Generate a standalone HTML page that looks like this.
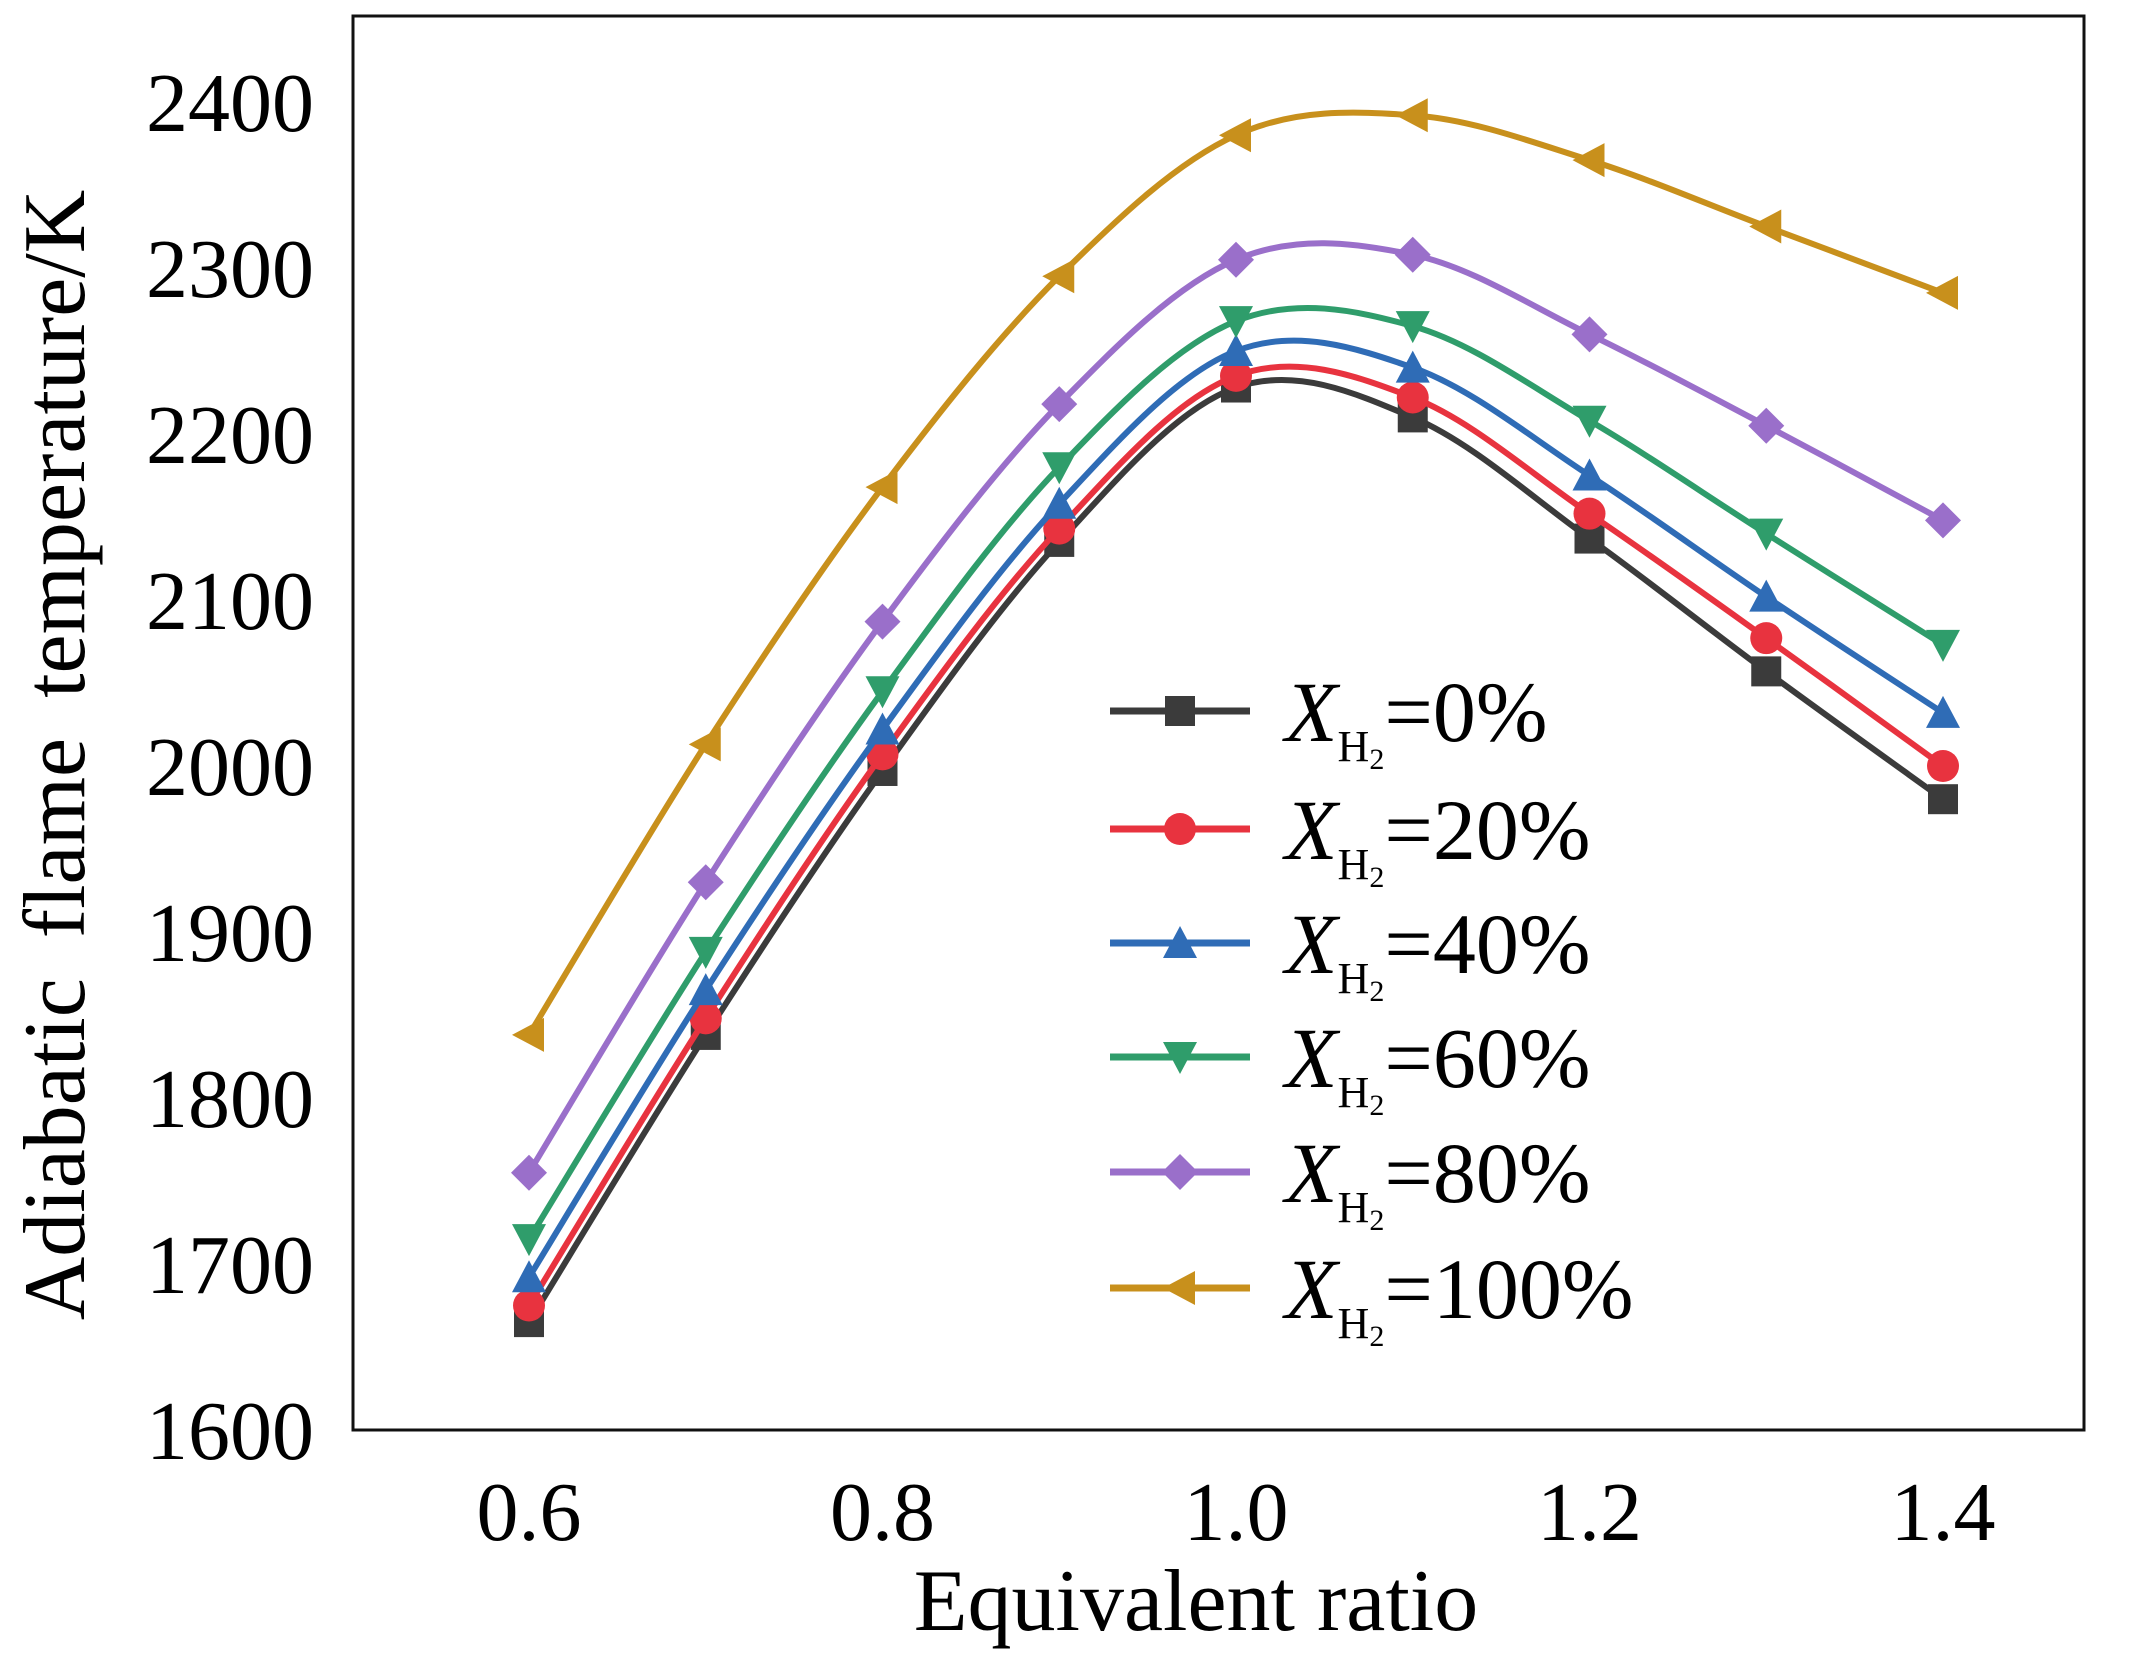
<!DOCTYPE html>
<html><head><meta charset="utf-8"><style>
html,body{margin:0;padding:0;background:#fff;}
svg{display:block;font-family:"Liberation Serif",serif;}
</style></head><body>
<svg id="chart" width="2144" height="1665" viewBox="0 0 2144 1665" xmlns="http://www.w3.org/2000/svg">
<rect x="353" y="16" width="1731" height="1414" fill="none" stroke="#111" stroke-width="3"/>
<g id="yticks"></g><g id="xticks"></g><g id="series"></g><g id="legend"></g>
<text x="1196" y="1630" font-size="88" text-anchor="middle">Equivalent ratio</text>
<text transform="translate(84,755) rotate(-90)" font-size="88" text-anchor="middle" word-spacing="18">Adiabatic  flame  temperature/K</text>
</svg>
<script>
const xValues=[0.6,0.7,0.8,0.9,1.0,1.1,1.2,1.3,1.4];
const yTickLabels=[1600,1700,1800,1900,2000,2100,2200,2300,2400];
const xTickLabels=["0.6","0.8","1.0","1.2","1.4"];
const seriesNames=["0%","20%","40%","60%","80%","100%"];
const s0=[1665,1838,1997,2135,2228,2210,2137,2057,1980];
const s20=[1675,1848,2007,2143,2235,2222,2152,2077,2000];
const s40=[1692,1865,2022,2158,2250,2240,2175,2102,2032];
const s60=[1715,1888,2045,2180,2268,2265,2208,2140,2073];
const s80=[1755,1930,2087,2218,2305,2308,2260,2205,2148];
const s100=[1838,2013,2168,2295,2380,2392,2365,2325,2285];
const allSeries=[s0,s20,s40,s60,s80,s100];
const colors=["#3b3b3b","#e8333f","#2f6cb6","#2f9d6b","#9a6fca","#c8901c"];
const markers=["square","circle","up","down","diamond","left"];
const NS="http://www.w3.org/2000/svg";
function X(v){return 529+(v-0.6)/0.8*1414;}
function Y(v){return 1430-(v-1600)/800*1328;}
function el(t,a,p){const e=document.createElementNS(NS,t);for(const k in a)e.setAttribute(k,a[k]);p.appendChild(e);return e;}
const yt=document.getElementById('yticks');
yTickLabels.forEach(v=>{const t=el('text',{x:314,y:Y(v)+29,'font-size':84,'text-anchor':'end'},yt);t.textContent=v;

});
const xt=document.getElementById('xticks');
xTickLabels.forEach(v=>{const t=el('text',{x:X(parseFloat(v)),y:1540,'font-size':84,'text-anchor':'middle'},xt);t.textContent=v;

});
function spline(pts){let d=`M${pts[0][0]},${pts[0][1]}`;for(let i=0;i<pts.length-1;i++){const p0=pts[Math.max(i-1,0)],p1=pts[i],p2=pts[i+1],p3=pts[Math.min(i+2,pts.length-1)];
const c1=[p1[0]+(p2[0]-p0[0])/6,p1[1]+(p2[1]-p0[1])/6],c2=[p2[0]-(p3[0]-p1[0])/6,p2[1]-(p3[1]-p1[1])/6];d+=`C${c1[0]},${c1[1]} ${c2[0]},${c2[1]} ${p2[0]},${p2[1]}`;}return d;}
function marker(type,x,y,c,g){const r=15;let e;
if(type==='square')e=el('rect',{x:x-r,y:y-r,width:2*r,height:2*r,fill:c},g);
else if(type==='circle')e=el('circle',{cx:x,cy:y,r:r+1,fill:c},g);
else if(type==='up')e=el('polygon',{points:`${x},${y-r-2} ${x+r+2},${y+r} ${x-r-2},${y+r}`,fill:c},g);
else if(type==='down')e=el('polygon',{points:`${x},${y+r+2} ${x+r+2},${y-r} ${x-r-2},${y-r}`,fill:c},g);
else if(type==='diamond')e=el('polygon',{points:`${x},${y-r-3} ${x+r+3},${y} ${x},${y+r+3} ${x-r-3},${y}`,fill:c},g);
else e=el('polygon',{points:`${x-r-2},${y} ${x+r},${y-r-2} ${x+r},${y+r+2}`,fill:c},g);
return e;}
const sg=document.getElementById('series');
allSeries.forEach((s,i)=>{const g=el('g',{},sg);


const pts=s.map((v,j)=>[X(xValues[j]),Y(v)]);
const p=el('path',{d:spline(pts),fill:'none',stroke:colors[i],'stroke-width':6},g);


pts.forEach(pt=>{const m=marker(markers[i],pt[0],pt[1],colors[i],g);

});});
const lg=document.getElementById('legend');
const ly=[711,829,943,1057,1172,1288];
seriesNames.forEach((n,i)=>{const g=el('g',{},lg);


el('line',{x1:1110,y1:ly[i],x2:1250,y2:ly[i],stroke:colors[i],'stroke-width':7},g);
marker(markers[i],1180,ly[i],colors[i],g);
const t=el('text',{x:1285,y:ly[i]+30,'font-size':86},g);
t.innerHTML=`<tspan font-style="italic">X</tspan><tspan font-size="44" dy="20">H</tspan><tspan font-size="30" dy="8">2</tspan><tspan dy="-28">=${n}</tspan>`;});
</script>
</body></html>
